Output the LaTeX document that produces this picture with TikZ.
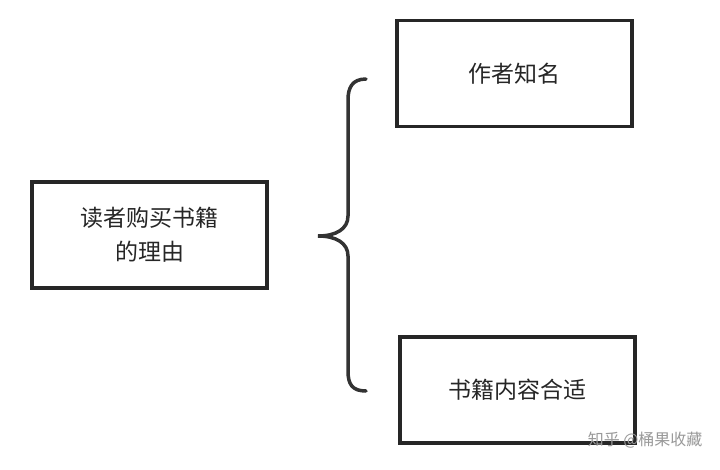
\documentclass[tikz,border=0pt]{standalone}
\usepackage{fontspec}
\newfontfamily\cjk{Noto Sans CJK SC}
\begin{document}
\begin{tikzpicture}[x=1pt,y=-1pt,
  box/.style={draw=black!85,line width=3.2pt,minimum width=235pt,minimum height=106pt,inner sep=0pt,align=center,font=\cjk\fontsize{23}{34}\selectfont,text=black!85}]
\useasboundingbox (0,0) rectangle (720,469);
\node[box] (left) at (149.5,235) {读者购买书籍\\的理由};
\node[box] (top) at (514.5,73.5) {作者知名};
\node[box] (bot) at (517.5,390) {书籍内容合适};
\draw[line width=3.5pt,black!80,line cap=round] (366,79) .. controls (352,79) and (348,88) .. (348,100) -- (348,216) .. controls (348,229) and (336,236) .. (318,236) .. controls (336,236) and (348,243) .. (348,256) -- (348,371) .. controls (348,384) and (352,391) .. (366,391);
\node[font=\cjk\fontsize{16}{18}\selectfont,text=black!40,anchor=east] (wm) at (706,440) {知乎 @桶果收藏};
\end{tikzpicture}
\end{document}
